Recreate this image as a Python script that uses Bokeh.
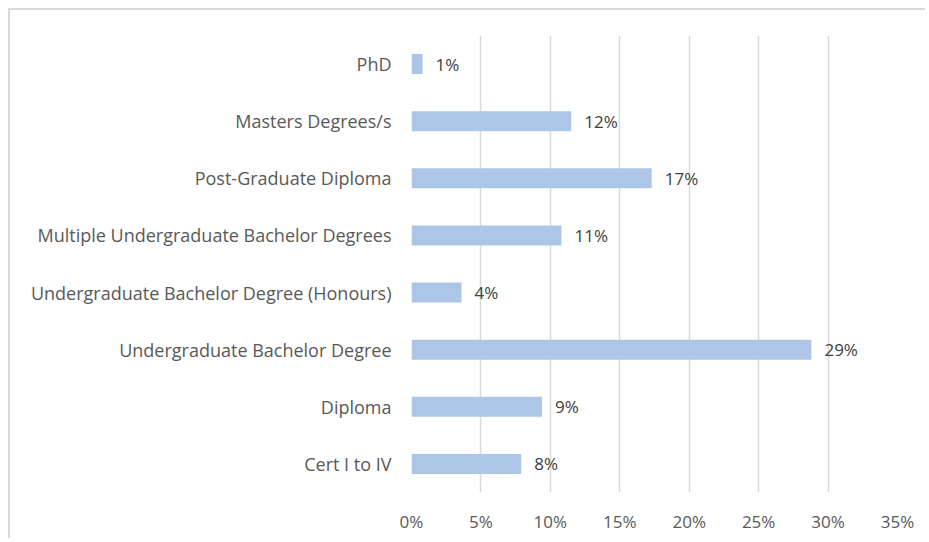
from bokeh.plotting import figure
from bokeh.models import ColumnDataSource, FixedTicker, CustomJSTickFormatter, FactorRange, Range1d
from bokeh.core.properties import value
from bokeh.embed import file_html
from bokeh.resources import INLINE

categories = ["Cert I to IV", "Diploma", "Undergraduate Bachelor Degree",
              "Undergraduate Bachelor Degree (Honours)", "Multiple Undergraduate Bachelor Degrees",
              "Post-Graduate Diploma", "Masters Degrees/s", "PhD"]
values = [0.079, 0.094, 0.288, 0.036, 0.108, 0.173, 0.115, 0.008]
labels = ["8%", "9%", "29%", "4%", "11%", "17%", "12%", "1%"]
x_ticks = [0, 0.05, 0.10, 0.15, 0.20, 0.25, 0.30, 0.35]

FONT = "Open Sans"

src = ColumnDataSource(dict(cat=categories, val=values, lab=labels))

p = figure(width=917, height=530, output_backend="svg", toolbar_location=None,
           y_range=FactorRange(*categories), x_range=Range1d(0, 0.35),
           min_border_left=401, min_border_right=30, min_border_top=25, min_border_bottom=48)
p.styles = {"margin-left": "8px", "margin-top": "8px",
            "border-top": "2px solid #d9d9d9", "border-left": "2px solid #d9d9d9"}
p.outline_line_color = None

p.hbar(y="cat", right="val", left=0, height=0.35, source=src, color="#adc5e7", line_color=None)
p.text(x="val", y="cat", text="lab", source=src, x_offset=13, text_baseline="middle",
       text_align="left", text_font=value(FONT), text_font_size="17px", text_color="#404040")

p.xaxis.ticker = FixedTicker(ticks=x_ticks)
p.xaxis.formatter = CustomJSTickFormatter(code="return Math.round(tick*100) + '%';")
p.xaxis.axis_line_color = None
p.xaxis.major_tick_line_color = None
p.xaxis.minor_tick_line_color = None
p.xaxis.major_label_standoff = 11
p.xaxis.major_label_text_font = FONT
p.xaxis.major_label_text_font_size = "17px"
p.xaxis.major_label_text_color = "#595959"

p.yaxis.axis_line_color = None
p.yaxis.major_tick_line_color = None
p.yaxis.minor_tick_line_color = None
p.yaxis.major_label_standoff = 14
p.yaxis.major_label_text_font = FONT
p.yaxis.major_label_text_font_size = "18px"
p.yaxis.major_label_text_color = "#595959"

p.ygrid.grid_line_color = None
p.xgrid.ticker = FixedTicker(ticks=x_ticks)
p.xgrid.grid_line_color = "#d9d9d9"
p.xgrid.grid_line_width = 1.5

open("out.html", "w").write(file_html(p, INLINE))
